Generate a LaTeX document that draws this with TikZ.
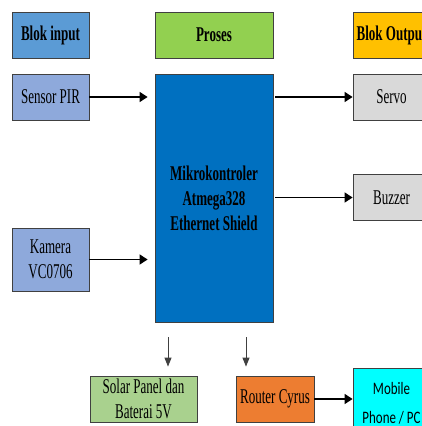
\documentclass[tikz,border=0pt]{standalone}
\usepackage{fontspec}
\setmainfont[FakeStretch=0.62]{Liberation Serif}
\newfontfamily\calibri[FakeStretch=0.74]{Carlito}
\usetikzlibrary{arrows.meta}

\definecolor{birutua}{HTML}{5B9BD5}
\definecolor{birumuda}{HTML}{8EA9DB}
\definecolor{hijau}{HTML}{92D050}
\definecolor{hijaumuda}{HTML}{A9D18E}
\definecolor{kuning}{HTML}{FFC000}
\definecolor{biruproses}{HTML}{0070C0}
\definecolor{abu}{HTML}{D9D9D9}
\definecolor{oranye}{HTML}{ED7D31}
\definecolor{cyan}{HTML}{00FFFF}

\begin{document}
\begin{tikzpicture}[x=1pt,y=-1pt,
    blok/.style={draw=black!75, line width=0.8pt, minimum width=77pt, minimum height=46pt,
      inner sep=0pt, align=center, font=\fontsize{21}{24.5}\selectfont},
    judul/.style={blok, font=\fontsize{21}{25}\selectfont\bfseries},
    panah/.style={line width=1.4pt, -{Triangle[length=8pt,width=10pt]}},
    panahbawah/.style={draw=black!75, line width=0.9pt, -{Triangle[length=9pt,width=7pt]}}]
      \useasboundingbox (0,0) rectangle (422,426);
      \clip (0,0) rectangle (422,426);

      \node[judul, fill=birutua] (blokinput) at (50.5,35) {Blok input};
      \node[judul, fill=hijau, minimum width=118pt] (proses) at (214,35) {Proses};
      \node[judul, fill=kuning] (blokoutput) at (391.5,35) {Blok Output};

      \node[blok, fill=birumuda] (sensorpir) at (50.5,97) {Sensor PIR};
      \node[blok, fill=birumuda, minimum height=63pt] (kamera) at (50.5,259.5) {Kamera\\VC0706};

      \node[judul, fill=biruproses, minimum width=118pt, minimum height=248pt] (mikro) at (214,198)
        {Mikrokontroler\\Atmega328\\Ethernet Shield};

      \node[blok, fill=abu] (servo) at (391.5,97) {Servo};
      \node[blok, fill=abu] (buzzer) at (391.5,197.5) {Buzzer};

      \node[blok, fill=hijaumuda, minimum width=107pt] (solar) at (143.5,399) {Solar Panel dan\\Baterai 5V};
      \node[blok, fill=oranye, minimum width=78pt] (router) at (275,399) {Router Cyrus};
      \node[blok, fill=cyan, minimum height=70pt, font=\calibri\fontsize{17.5}{29}\selectfont] (mobile) at (391.5,403)
        {Mobile\\Phone / PC};

      % 矢印
      \draw[panah, shorten >=7pt] (sensorpir) -- (sensorpir -| mikro.west);
      \draw[panah, shorten >=7pt] (kamera) -- (kamera -| mikro.west);
      \draw[panah, shorten <=2pt] (mikro.east |- servo) -- (servo);
      \draw[panah, shorten <=2pt] (mikro.east |- buzzer) -- (buzzer);
      \draw[panah] (router) -- (router -| mobile.west);
      \draw[panahbawah, shorten <=15pt, shorten >=9pt] ([xshift=-46pt]mikro.south) -- ([xshift=-46pt]mikro.south |- solar.north);
      \draw[panahbawah, shorten <=15pt, shorten >=9pt] ([xshift=32pt]mikro.south) -- ([xshift=32pt]mikro.south |- router.north);
\end{tikzpicture}
\end{document}
